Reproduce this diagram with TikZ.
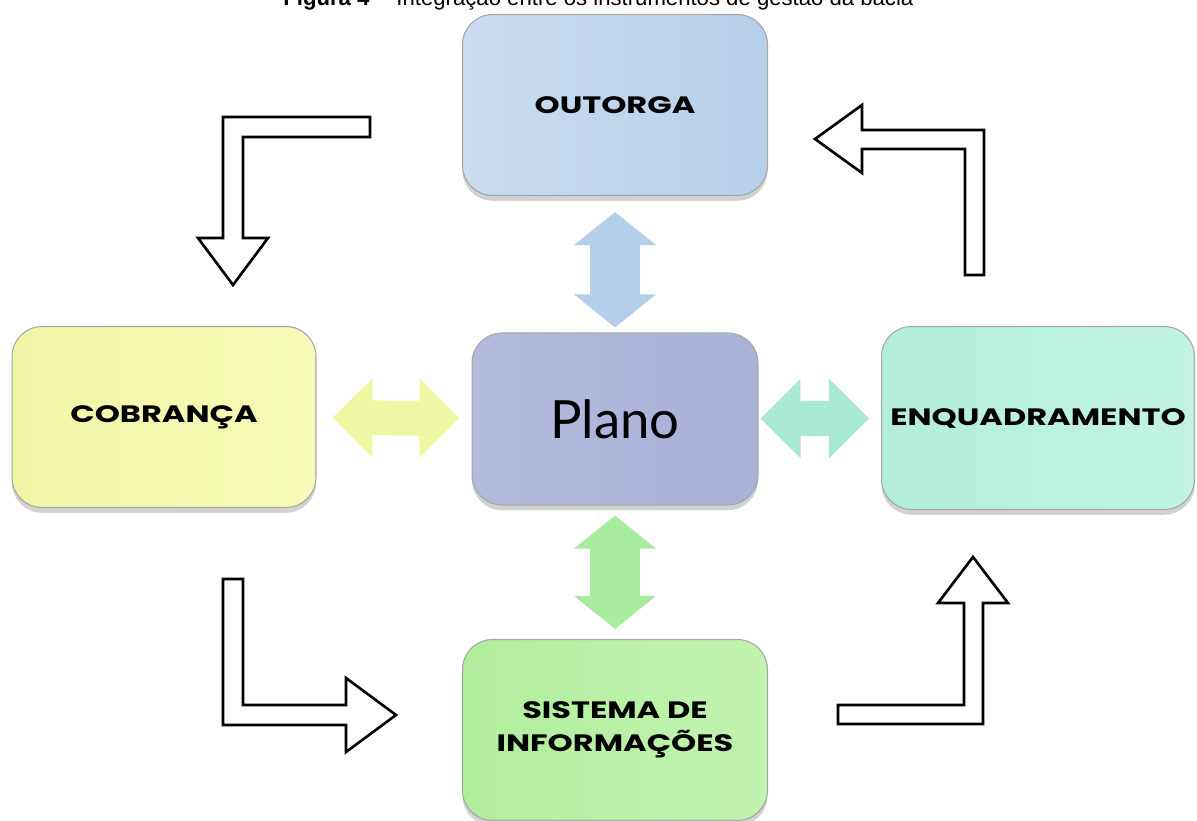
\documentclass[tikz,border=0pt]{standalone}
\usepackage{fontspec}
\usetikzlibrary{arrows.meta,shadows}
\newfontfamily\capsfont{Poppins}[FakeStretch=1.35]
\newfontfamily\planofont{Lato}
\newfontfamily\legendfont{Liberation Sans}
\definecolor{outorgaA}{HTML}{C9DCF0}
\definecolor{outorgaB}{HTML}{B7D0EA}
\definecolor{cobrancaA}{HTML}{F1F6A6}
\definecolor{cobrancaB}{HTML}{F6FAB8}
\definecolor{planoA}{HTML}{B3BADC}
\definecolor{planoB}{HTML}{A9B2D8}
\definecolor{enquadA}{HTML}{B3EEDA}
\definecolor{enquadB}{HTML}{C2F3E3}
\definecolor{sistemaA}{HTML}{B0EE9C}
\definecolor{sistemaB}{HTML}{C2F3B0}
\definecolor{arrblue}{HTML}{B5CFEA}
\definecolor{arryellow}{HTML}{EEF8A4}
\definecolor{arrmint}{HTML}{A9E8D2}
\definecolor{arrgreen}{HTML}{A8ECA0}
\begin{document}
\begin{tikzpicture}[x=0.02cm,y=-0.02cm,
  box/.style={draw=gray!70, line width=0.6pt, rounded corners=0.6cm,
    minimum width=6.1cm, minimum height=3.62cm, align=center,
    drop shadow={shadow xshift=0pt, shadow yshift=-3pt, opacity=0.35},
    font=\capsfont\bfseries\fontsize{13.5}{19}\selectfont},
  vdbl/.style={line width=1cm, {Triangle[width=1.6cm,length=0.66cm]}-{Triangle[width=1.6cm,length=0.66cm]}},
  hdbl/.style={line width=0.7cm, {Triangle[width=1.54cm,length=0.8cm]}-{Triangle[width=1.54cm,length=0.8cm]}},
  hollow/.style={draw=black, line width=1.5pt, fill=white, line join=miter}]
\clip (0,0) rectangle (1197,821);
\fill[white] (0,0) rectangle (1197,821);

% legenda (cortada no topo)
\node[anchor=base west, inner sep=0pt, font=\legendfont\fontsize{12.6}{14}\selectfont] (legenda) at (283,6)
  {\textbf{Figura 4} -- Integração entre os instrumentos de gestão da bacia};

% caixas
\node[box, left color=outorgaA, right color=outorgaB] (outorga) at (615,105) {OUTORGA};
\node[box, left color=cobrancaA, right color=cobrancaB, minimum width=6.08cm] (cobranca) at (164,417) {COBRANÇA};
\node[box, left color=planoA, right color=planoB, minimum width=5.72cm, minimum height=3.44cm,
  font=\planofont\fontsize{30}{32}\selectfont] (plano) at (615,419) {Plano};
\node[box, left color=enquadA, right color=enquadB, minimum width=6.26cm, minimum height=3.66cm] (enquadramento) at (1038,418) {ENQUADRAMENTO};
\node[box, left color=sistemaA, right color=sistemaB] (sistema) at (615,730) {SISTEMA DE\\INFORMAÇÕES};

% setas duplas
\draw[vdbl, draw=arrblue, shorten <=0.32cm, shorten >=0.1cm] (outorga) -- (plano);
\draw[vdbl, draw=arrgreen, shorten <=0.2cm, shorten >=0.2cm] (plano) -- (sistema);
\draw[hdbl, draw=arryellow, shorten <=0.32cm, shorten >=0.24cm] (cobranca) -- (plano);
\draw[hdbl, draw=arrmint, shorten <=0.04cm, shorten >=0.24cm] (plano) -- (enquadramento);

% setas em L (ciclo)
\draw[hollow] (370,117) -- (223,117) -- (223,238) -- (198,238) -- (233,285) -- (268,238)
  -- (243,238) -- (243,137) -- (370,137) -- cycle;
\draw[hollow] (223,579) -- (243,579) -- (243,705) -- (346,705) -- (346,678) -- (396,715)
  -- (346,752) -- (346,725) -- (223,725) -- cycle;
\draw[hollow] (838,705) -- (964,705) -- (964,603) -- (938,603) -- (973,557) -- (1008,603)
  -- (983,603) -- (983,724) -- (838,724) -- cycle;
\draw[hollow] (815,139) -- (862,105) -- (862,130) -- (984,130) -- (984,275) -- (965,275)
  -- (965,149) -- (862,149) -- (862,173) -- cycle;
\end{tikzpicture}
\end{document}
